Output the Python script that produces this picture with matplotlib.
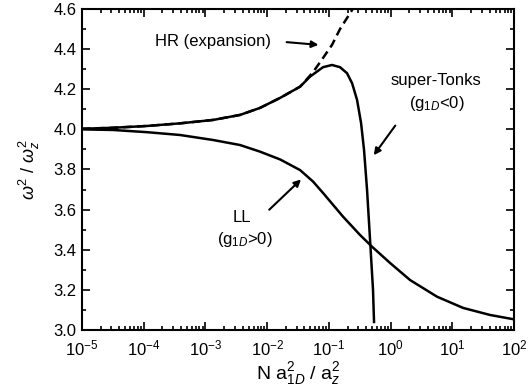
import numpy as np
import matplotlib.pyplot as plt
from matplotlib.ticker import LogLocator, MultipleLocator

plt.rcParams['font.family'] = ['Liberation Sans', 'DejaVu Sans']
plt.rcParams['mathtext.fontset'] = 'custom'
plt.rcParams['mathtext.rm'] = 'Liberation Sans'
plt.rcParams['mathtext.it'] = 'Liberation Sans:italic'
plt.rcParams['mathtext.bf'] = 'Liberation Sans:bold'

# super-Tonks branch (g_1D < 0)
st_x = [1e-5, 3.18e-5, 1.13e-4, 3.87e-4, 1.33e-3, 3.63e-3, 7.64e-3, 1.62e-2, 3.41e-2,
        4.94e-2, 8.02e-2, 0.112, 0.151, 0.196, 0.237, 0.285, 0.331, 0.370, 0.414,
        0.463, 0.517, 0.537]
st_y = [4.003, 4.008, 4.017, 4.030, 4.047, 4.072, 4.107, 4.157, 4.213,
        4.263, 4.310, 4.321, 4.310, 4.280, 4.230, 4.147, 4.032, 3.897, 3.698,
        3.449, 3.20, 3.04]

# HR expansion (dashed)
hr_x = [1e-5, 3.18e-5, 1.13e-4, 3.87e-4, 1.33e-3, 3.63e-3, 7.64e-3, 1.62e-2, 3.41e-2,
        5.52e-2, 8.02e-2, 0.112, 0.151, 0.237, 0.25]
hr_y = [4.003, 4.008, 4.017, 4.030, 4.047, 4.072, 4.107, 4.157, 4.213,
        4.285, 4.356, 4.421, 4.50, 4.595, 4.61]

# LL branch (g_1D > 0)
ll_x = [1e-5, 3.18e-5, 1.13e-4, 3.87e-4, 1.33e-3, 3.63e-3, 7.64e-3, 1.62e-2, 3.41e-2,
        5.52e-2, 8.02e-2, 0.169, 0.318, 0.499, 0.977, 2.06, 5.63, 14.9, 40.6, 100.0]
ll_y = [4.000, 3.997, 3.986, 3.972, 3.947, 3.922, 3.889, 3.850, 3.797,
        3.740, 3.683, 3.565, 3.474, 3.415, 3.334, 3.249, 3.166, 3.110, 3.075, 3.053]

fig = plt.figure(figsize=(5.29, 3.91), dpi=100)
ax = fig.add_axes([0.155, 0.156, 0.817, 0.821])

ax.plot(st_x, st_y, color='black', lw=1.8)
ax.plot(hr_x, hr_y, color='black', lw=1.8, linestyle=(0, (3.5, 2)))
ax.plot(ll_x, ll_y, color='black', lw=1.8)

ax.set_xscale('log')
ax.set_xlim(1e-5, 1e2)
ax.set_ylim(3.0, 4.6)
ax.xaxis.set_major_locator(LogLocator(base=10, numticks=10))
ax.xaxis.set_minor_locator(LogLocator(base=10, subs=np.arange(2, 10), numticks=20))
ax.yaxis.set_major_locator(MultipleLocator(0.2))
ax.yaxis.set_minor_locator(MultipleLocator(0.1))
ax.yaxis.set_major_formatter(plt.FormatStrFormatter('%.1f'))
ax.tick_params(which='both', direction='in', top=True, right=True, labelsize=12, width=1.2)
ax.tick_params(which='major', length=6, pad=4)
ax.tick_params(axis='x', which='major', pad=6)
ax.tick_params(which='minor', length=3)
for s in ax.spines.values():
    s.set_linewidth(1.5)

ax.set_xlabel(r'N a$^2_{1D}$ / a$^2_z$', fontsize=14, labelpad=1)
ax.set_ylabel(r'$\omega^2$ / $\omega^2_z$', fontsize=13, labelpad=8)

ap = dict(arrowstyle='-|>', color='black', lw=1.5, mutation_scale=10)
ax.text(1.3e-3, 4.436, 'HR (expansion)', fontsize=12, ha='center', va='center')
ax.annotate('', xy=(0.075, 4.42), xytext=(0.0186, 4.436), arrowprops=ap)

ax.text(5.5, 4.246, 'super-Tonks', fontsize=12, ha='center', va='center')
ax.text(5.5, 4.13, r'(g$_{1D}$<0)', fontsize=12, ha='center', va='center')
ax.annotate('', xy=(0.50, 3.86), xytext=(1.26, 4.03), arrowprops=ap)

ax.text(3.9e-3, 3.56, 'LL', fontsize=12, ha='center', va='center')
ax.text(4.4e-3, 3.45, r'(g$_{1D}$>0)', fontsize=12, ha='center', va='center')
ax.annotate('', xy=(0.038, 3.76), xytext=(0.01, 3.59), arrowprops=ap)

fig.savefig('out.png', dpi=100)
